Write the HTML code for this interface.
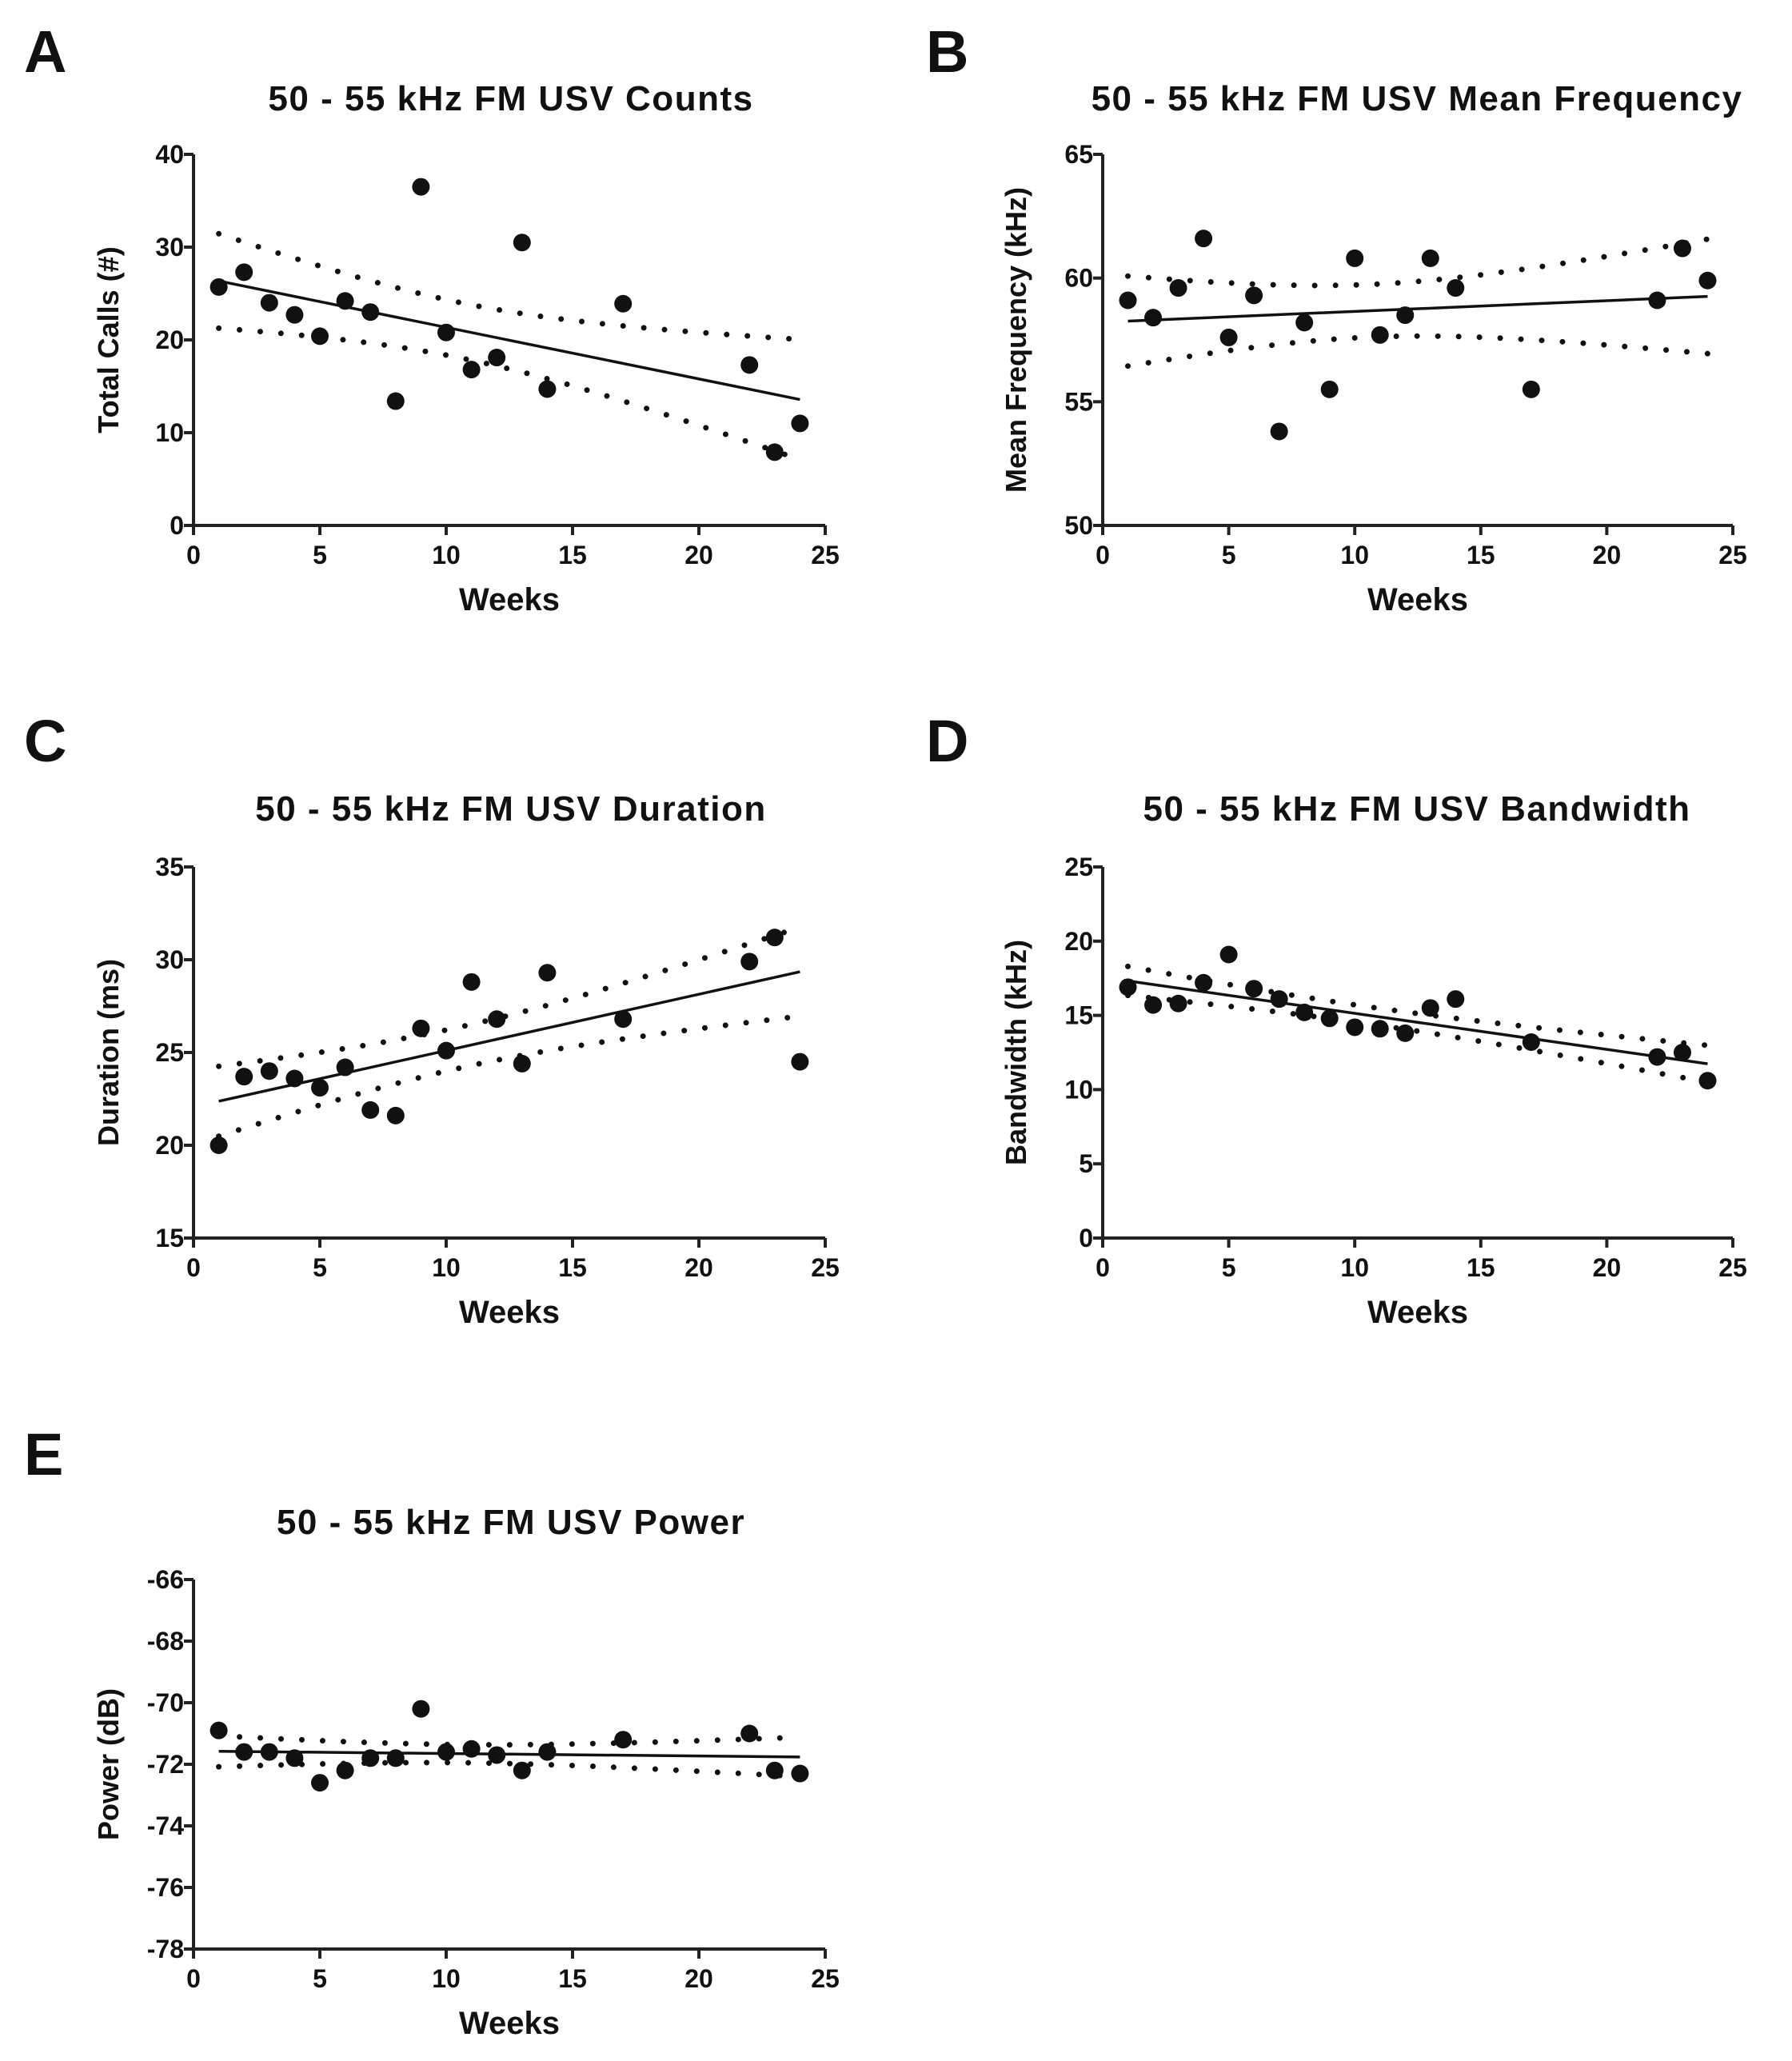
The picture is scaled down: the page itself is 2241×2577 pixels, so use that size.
<!DOCTYPE html>
<html><head><meta charset="utf-8">
<style>
html,body{margin:0;padding:0;background:#fff;}
svg{display:block;}
text{font-family:"Liberation Sans",sans-serif;font-weight:bold;fill:#111;}
</style></head>
<body>
<svg id="fig" width="2241" height="2577" viewBox="0 0 2241 2577" xmlns="http://www.w3.org/2000/svg"></svg>
<script>
const weeks = [1,2,3,4,5,6,7,8,9,10,11,12,13,14,17,22,23,24];
const countsA = [25.7,27.3,24,22.7,20.4,24.2,23,13.4,36.5,20.8,16.8,18.1,30.5,14.7,23.9,17.3,7.9,11];
const freqB = [59.1,58.4,59.6,61.6,57.6,59.3,53.8,58.2,55.5,60.8,57.7,58.5,60.8,59.6,55.5,59.1,61.2,59.9];
const durC = [20,23.7,24,23.6,23.1,24.2,21.9,21.6,26.3,25.1,28.8,26.8,24.4,29.3,26.8,29.9,31.2,24.5];
const bwD = [16.9,15.7,15.8,17.2,19.1,16.8,16.1,15.2,14.8,14.2,14.1,13.8,15.5,16.1,13.2,12.2,12.5,10.6];
const powE = [-70.9,-71.6,-71.6,-71.8,-72.6,-72.2,-71.8,-71.8,-70.2,-71.6,-71.5,-71.7,-72.2,-71.6,-71.2,-71,-72.2,-72.3];
const xTicks = [0,5,10,15,20,25];
const ticksA = [0,10,20,30,40];
const ticksB = [50,55,60,65];
const ticksC = [15,20,25,30,35];
const ticksD = [0,5,10,15,20,25];
const ticksE = [-78,-76,-74,-72,-70,-68,-66];

const NS="http://www.w3.org/2000/svg";
const svg=document.getElementById('fig');
function mk(tag,attrs,parent){const e=document.createElementNS(NS,tag);for(const k in attrs)e.setAttribute(k,attrs[k]);(parent||svg).appendChild(e);return e;}

function panel(cfg){
  const g=mk('g',{});
  
  
  const {x0,x1,y0,y1,ymin,ymax}=cfg;
  const sx=v=>x0+(v-0)/(25-0)*(x1-x0);
  const sy=v=>y0-(v-ymin)/(ymax-ymin)*(y0-y1);
  const L=mk('text',{x:cfg.lx,y:cfg.ly,'font-size':74},g);L.textContent=cfg.letter;
  
  
  const T=mk('text',{x:cfg.tx,y:cfg.ty,'font-size':44,'text-anchor':'middle','letter-spacing':'1.5'},g);T.textContent=cfg.title;
  
  
  const ax=mk('path',{d:`M${x0} ${y1}V${y0}H${x1}`,stroke:'#222','stroke-width':4,fill:'none'},g);
  
  
  xTicks.forEach(t=>{
    mk('line',{x1:sx(t),x2:sx(t),y1:y0,y2:y0+12,stroke:'#222','stroke-width':4},g);
    const tt=mk('text',{x:sx(t),y:y0+48,'font-size':32,'text-anchor':'middle'},g);tt.textContent=t;
    
    
  });
  cfg.yt.forEach(t=>{
    mk('line',{x1:x0-12,x2:x0,y1:sy(t),y2:sy(t),stroke:'#222','stroke-width':4},g);
    const tt=mk('text',{x:x0-12,y:sy(t)+11,'font-size':32,'text-anchor':'end'},g);tt.textContent=t;
    
    
  });
  const xl=mk('text',{x:(x0+x1)/2,y:y0+106,'font-size':40,'text-anchor':'middle'},g);xl.textContent='Weeks';
  
  
  const yc=(y0+y1)/2;
  const yl=mk('text',{x:cfg.ylx,y:yc,'font-size':36,'text-anchor':'middle',transform:`rotate(-90 ${cfg.ylx} ${yc})`},g);yl.textContent=cfg.ylabel;
  
  
  const xs=weeks, ys=cfg.data, n=xs.length;
  const mx=xs.reduce((a,b)=>a+b)/n, my=ys.reduce((a,b)=>a+b)/n;
  let sxx=0,sxy=0;for(let i=0;i<n;i++){sxx+=(xs[i]-mx)**2;sxy+=(xs[i]-mx)*(ys[i]-my);}
  const b=sxy/sxx,a=my-b*mx;
  let sse=0;for(let i=0;i<n;i++)sse+=(ys[i]-a-b*xs[i])**2;
  const s=Math.sqrt(sse/(n-2)), tcrit=2.12;
  const xa=1,xb=24;
  const fit=mk('line',{x1:sx(xa),y1:sy(a+b*xa),x2:sx(xb),y2:sy(a+b*xb),stroke:'#111','stroke-width':3.5},g);
  
  
  ['upper','lower'].forEach((side,k)=>{
    let d='';
    for(let i=0;i<=46;i++){const xv=xa+(xb-xa)*i/46;const h=tcrit*s*Math.sqrt(1/n+(xv-mx)**2/sxx);
      const yv=a+b*xv+(k?-h:h);d+=(i?'L':'M')+sx(xv).toFixed(1)+' '+sy(yv).toFixed(1);}
    const p=mk('path',{d,stroke:'#111','stroke-width':7,fill:'none','stroke-linecap':'round','stroke-dasharray':'0 26'},g);
    
    
  });
  xs.forEach((xv,i)=>{
    const c=mk('circle',{cx:sx(xv),cy:sy(ys[i]),r:11,fill:'#111'},g);
    
    
  });
}
panel({key:'a',letter:'A',lx:30,ly:90,title:'50 - 55 kHz FM USV Counts',tx:639,ty:138,x0:242,x1:1032,y0:657,y1:193,ymin:0,ymax:40,yt:ticksA,data:countsA,ylabel:'Total Calls (#)',ylx:148});
panel({key:'b',letter:'B',lx:1158,ly:90,title:'50 - 55 kHz FM USV Mean Frequency',tx:1772,ty:138,x0:1379,x1:2167,y0:657,y1:193,ymin:50,ymax:65,yt:ticksB,data:freqB,ylabel:'Mean Frequency (kHz)',ylx:1283});
panel({key:'c',letter:'C',lx:30,ly:952,title:'50 - 55 kHz FM USV Duration',tx:639,ty:1026,x0:242,x1:1032,y0:1548,y1:1084,ymin:15,ymax:35,yt:ticksC,data:durC,ylabel:'Duration (ms)',ylx:148});
panel({key:'d',letter:'D',lx:1158,ly:952,title:'50 - 55 kHz FM USV Bandwidth',tx:1772,ty:1026,x0:1379,x1:2167,y0:1548,y1:1084,ymin:0,ymax:25,yt:ticksD,data:bwD,ylabel:'Bandwidth (kHz)',ylx:1283});
panel({key:'e',letter:'E',lx:30,ly:1844,title:'50 - 55 kHz FM USV Power',tx:639,ty:1918,x0:242,x1:1032,y0:2437,y1:1975,ymin:-78,ymax:-66,yt:ticksE,data:powE,ylabel:'Power (dB)',ylx:148});
</script>
</body></html>
